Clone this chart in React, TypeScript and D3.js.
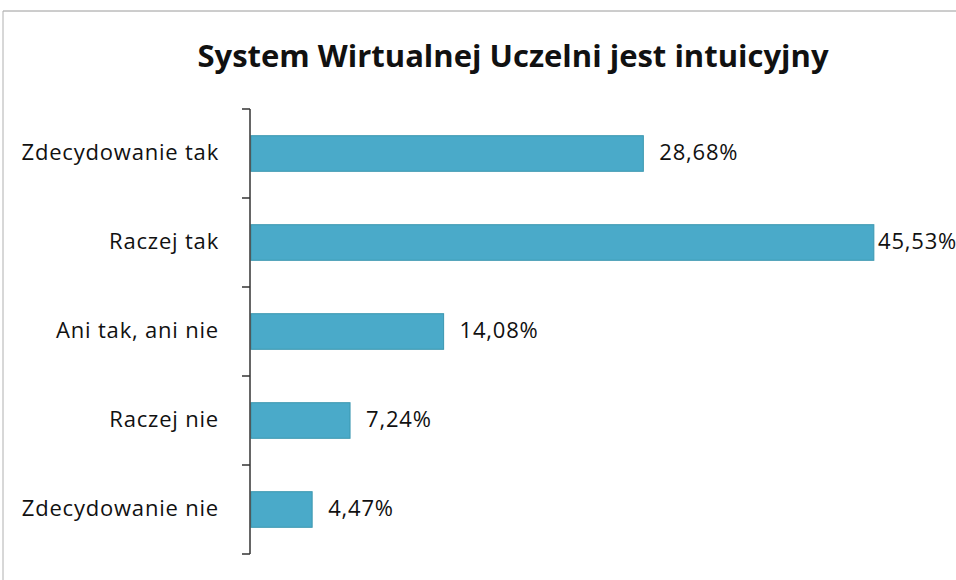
import React from "react";
import * as d3 from "d3";

const title = "System Wirtualnej Uczelni jest intuicyjny";
const categories = ["Zdecydowanie tak", "Raczej tak", "Ani tak, ani nie", "Raczej nie", "Zdecydowanie nie"];
const values = [28.68, 45.53, 14.08, 7.24, 4.47];
const valueLabels = ["28,68%", "45,53%", "14,08%", "7,24%", "4,47%"];

const W = 956;
const H = 580;

export default function App() {
  const x = d3.scaleLinear().domain([0, 50]).range([251, 935]);
  const y = d3.scaleBand<string>().domain(categories).range([109, 554]).paddingInner(0.6).paddingOuter(0.3);
  const ticks = d3.range(categories.length + 1).map((i) => 109 + i * ((554 - 109) / categories.length));
  const font = "'Open Sans', sans-serif";
  return (
    <svg width={W} height={H} style={{ position: "absolute", left: 0, top: 0 }}>
      <rect x={0} y={0} width={W} height={H} fill="#fff" />
      <line x1={3} y1={11} x2={W} y2={11} stroke="#9a9a9a" strokeWidth={1} />
      <line x1={3} y1={11} x2={3} y2={H} stroke="#b0b0b0" strokeWidth={1} />
      <text x={513} y={67} textAnchor="middle" fontFamily={font} fontWeight={700} fontSize={31} fill="#111">
        {title}
      </text>
      {categories.map((c, i) => {
        const by = y(c)!;
        const bh = y.bandwidth();
        const xe = x(values[i]);
        const lx = Math.min(xe + 16, 878);
        return (
          <g key={c}>
            <rect x={x(0)} y={by} width={xe - x(0)} height={bh} fill="#4aaac9" stroke="#3b97b0" strokeWidth={1} />
            <text x={219} y={by + bh / 2} dy="0.28em" textAnchor="end" fontFamily={font} fontSize={22} letterSpacing={0.8} fill="#111">
              {c}
            </text>
            <text x={lx} y={by + bh / 2} dy="0.28em" fontFamily={font} fontSize={22} letterSpacing={0.8} fill="#111">
              {valueLabels[i]}
            </text>
          </g>
        );
      })}
      <line x1={250} y1={109} x2={250} y2={554} stroke="#333" strokeWidth={1.5} />
      {ticks.map((t, i) => (
        <line key={i} x1={242} y1={t} x2={250} y2={t} stroke="#333" strokeWidth={1.5} />
      ))}
    </svg>
  );
}
